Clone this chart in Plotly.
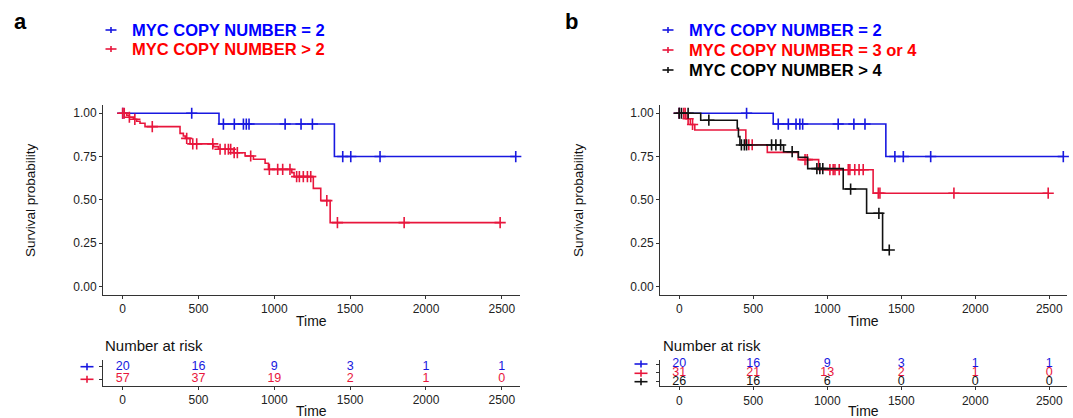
import numpy as np
import plotly.graph_objects as go

W, H = 1073, 418

# ---------------- data ----------------
# Panel a
a_blue_event_t = [635, 1396]
a_blue_surv = [0.9375, 0.75]
a_blue_censor = [0, 455, 664, 736, 796, 815, 833, 1071, 1176, 1251, 1451, 1504, 1697, 2592]

a_red_event_t = [26, 44, 70, 92, 114, 147, 378, 400, 413, 444, 598, 631, 730, 807, 862, 939, 961,
                 1115, 1130, 1257, 1306, 1368]
a_red_surv = [0.988, 0.977, 0.965, 0.954, 0.942, 0.923, 0.884, 0.869, 0.855, 0.823, 0.807, 0.792,
              0.772, 0.753, 0.734, 0.711, 0.676, 0.657, 0.634, 0.566, 0.495, 0.368]
a_red_censor = [0, 10, 44, 80, 195, 422, 462, 488, 594, 642, 675, 697, 712, 735, 756, 844, 967, 1022,
                1055, 1103, 1147, 1165, 1191, 1218, 1240, 1346, 1416, 1856, 2489]

# Panel b
b_blue_event_t = [635, 1396]
b_blue_surv = [0.9375, 0.75]
b_blue_censor = [0, 455, 669, 737, 789, 815, 834, 1074, 1180, 1255, 1457, 1514, 1699, 2595]

b_red_event_t = [45, 75, 105, 450, 595, 804, 942, 1310]
b_red_surv = [0.968, 0.935, 0.903, 0.818, 0.774, 0.732, 0.674, 0.538]
b_red_censor = [0, 30, 40, 60, 90, 470, 493, 850, 865, 1018, 1040, 1052, 1081, 1142, 1153, 1186,
                1215, 1243, 1345, 1356, 1856, 2493]

b_black_event_t = [145, 392, 400, 410, 705, 805, 868, 1108, 1266, 1374]
b_black_surv = [0.96, 0.913, 0.865, 0.817, 0.778, 0.746, 0.68, 0.562, 0.422, 0.21]
b_black_censor = [0, 15, 60, 200, 420, 440, 455, 624, 653, 685, 763, 930, 950, 970, 1158, 1349, 1419]

risk_times = [0, 500, 1000, 1500, 2000, 2500]
a_risk_blue = [20, 16, 9, 3, 1, 1]
a_risk_red = [57, 37, 19, 2, 1, 0]
b_risk_blue = [20, 16, 9, 3, 1, 1]
b_risk_red = [31, 21, 13, 2, 1, 0]
b_risk_black = [26, 16, 6, 0, 0, 0]

a_labels = ["MYC COPY NUMBER = 2", "MYC COPY NUMBER > 2"]
b_labels = ["MYC COPY NUMBER = 2", "MYC COPY NUMBER = 3 or 4", "MYC COPY NUMBER > 4"]
y_ticks = [0, 0.25, 0.5, 0.75, 1.0]
y_ticklabels = ["0.00", "0.25", "0.50", "0.75", "1.00"]

# ---------------- styles ----------------
BLUE = "#1818e0"
RED = "#e8163c"
BLACK = "#111111"
LEG_BLUE = "#0000ff"
LEG_RED = "#ff0000"
FONT = "Liberation Sans, Arial, sans-serif"


def px(x):
    return x / W


def py(y):
    return 1 - y / H


def surv_at(event_t, surv, t):
    idx = np.searchsorted(np.array(event_t), t, side="right")
    return 1.0 if idx == 0 else surv[idx - 1]


fig = go.Figure()


def add_km(event_t, surv, censor, color, xa, ya):
    end = max(censor + event_t)
    xs = [0] + list(event_t) + [end]
    ys = [1.0] + list(surv) + [surv[-1]]
    fig.add_trace(go.Scatter(x=xs, y=ys, mode="lines", line=dict(color=color, width=1.6, shape="hv"),
                             xaxis=xa, yaxis=ya, showlegend=False, hoverinfo="skip"))
    cy = [surv_at(event_t, surv, t) for t in censor]
    fig.add_trace(go.Scatter(x=censor, y=cy, mode="markers",
                             marker=dict(symbol="cross-thin", size=8, line=dict(color=color, width=1.6)),
                             xaxis=xa, yaxis=ya, showlegend=False, hoverinfo="skip", cliponaxis=False))


add_km(a_blue_event_t, a_blue_surv, a_blue_censor, BLUE, "x", "y")
add_km(a_red_event_t, a_red_surv, a_red_censor, RED, "x", "y")
add_km(b_blue_event_t, b_blue_surv, b_blue_censor, BLUE, "x2", "y2")
add_km(b_red_event_t, b_red_surv, b_red_censor, RED, "x2", "y2")
add_km(b_black_event_t, b_black_surv, b_black_censor, BLACK, "x2", "y2")


def add_risk(values, row, color, xa, ya):
    fig.add_trace(go.Scatter(x=risk_times, y=[row] * len(risk_times), mode="text",
                             text=[str(v) for v in values],
                             textfont=dict(color=color, size=12.5, family=FONT),
                             xaxis=xa, yaxis=ya, showlegend=False, hoverinfo="skip", cliponaxis=False))


add_risk(a_risk_blue, 2, BLUE, "x3", "y3")
add_risk(a_risk_red, 1, RED, "x3", "y3")
add_risk(b_risk_blue, 3, BLUE, "x4", "y4")
add_risk(b_risk_red, 2, RED, "x4", "y4")
add_risk(b_risk_black, 1, BLACK, "x4", "y4")

# ---------------- axes ----------------
xr = [-130, 2620]
main_y_dom = [py(295), py(104.6)]
ax_common = dict(showgrid=False, zeroline=False, showline=True, linecolor="#333333", linewidth=1,
                 ticks="outside", ticklen=3, tickcolor="#333333",
                 tickfont=dict(size=12, color="#222222", family=FONT))

fig.update_layout(
    xaxis=dict(domain=[px(103), px(520)], range=xr, tickvals=risk_times, anchor="y", **ax_common),
    yaxis=dict(domain=main_y_dom, range=[-0.05, 1.05], tickvals=y_ticks, ticktext=y_ticklabels,
               anchor="x", **ax_common),
    xaxis2=dict(domain=[px(660), px(1067)], range=xr, tickvals=risk_times, anchor="y2", **ax_common),
    yaxis2=dict(domain=main_y_dom, range=[-0.05, 1.05], tickvals=y_ticks, ticktext=y_ticklabels,
                anchor="x2", **ax_common),
    xaxis3=dict(domain=[px(103), px(520)], range=xr, tickvals=risk_times, anchor="y3", **ax_common),
    yaxis3=dict(domain=[py(385.6), py(360.4)], range=[0.5, 2.5], tickvals=[1, 2], showticklabels=False,
                anchor="x3", **ax_common),
    xaxis4=dict(domain=[px(660), px(1067)], range=xr, tickvals=risk_times, anchor="y4", **ax_common),
    yaxis4=dict(domain=[py(386.1), py(359.6)], range=[0.5, 3.5], tickvals=[1, 2, 3], showticklabels=False,
                anchor="x4", **ax_common),
)

annotations = []
shapes = []


def ann(x, y, text, size, color="#111111", bold=False, xanchor="center", angle=0):
    t = f"<b>{text}</b>" if bold else text
    annotations.append(dict(x=px(x), y=py(y), xref="paper", yref="paper", text=t, showarrow=False,
                            xanchor=xanchor, yanchor="middle", textangle=angle,
                            font=dict(size=size, color=color, family=FONT)))


def cross(x, y, color, hw, hh, width=1.6):
    shapes.append(dict(type="line", xref="paper", yref="paper", x0=px(x - hw), x1=px(x + hw),
                       y0=py(y), y1=py(y), line=dict(color=color, width=width)))
    shapes.append(dict(type="line", xref="paper", yref="paper", x0=px(x), x1=px(x),
                       y0=py(y - hh), y1=py(y + hh), line=dict(color=color, width=width)))


# panel labels
ann(20, 22, "a", 22, "#000000", bold=True)
ann(571, 22, "b", 22, "#000000", bold=True)

# legends
leg_a_colors = [LEG_BLUE, LEG_RED]
leg_a_cross = [BLUE, RED]
for i, (lab, c, cc) in enumerate(zip(a_labels, leg_a_colors, leg_a_cross)):
    yy = 30 + 19 * i
    cross(111, yy, cc, 5.5, 3)
    ann(130, yy, lab, 16.5, c, bold=True, xanchor="left")

leg_b_colors = [LEG_BLUE, LEG_RED, "#000000"]
leg_b_cross = [BLUE, RED, BLACK]
for i, (lab, c, cc) in enumerate(zip(b_labels, leg_b_colors, leg_b_cross)):
    yy = 30 + 20 * i
    cross(668, yy, cc, 5.5, 3)
    ann(687, yy, lab, 16.5, c, bold=True, xanchor="left")

# axis titles
ann(30, 200, "Survival probability", 13.5, angle=-90)
ann(578, 200, "Survival probability", 13.5, angle=-90)
ann(311.5, 321, "Time", 14)
ann(863.5, 321, "Time", 14)
ann(311.5, 411, "Time", 14)
ann(863.5, 411, "Time", 14)
ann(103, 345, "Number at risk", 15, xanchor="left")
ann(661, 345, "Number at risk", 15, xanchor="left")

# risk table keys
cross(87, 366.7, BLUE, 6.5, 3.5)
cross(87, 379.3, RED, 6.5, 3.5)
cross(641, 364, BLUE, 6.5, 3.5)
cross(641, 373.3, RED, 6.5, 3.5)
cross(641, 381.7, BLACK, 6.5, 3.5)

fig.update_layout(
    width=W, height=H, margin=dict(l=0, r=0, t=0, b=0),
    paper_bgcolor="white", plot_bgcolor="white",
    annotations=annotations, shapes=shapes, showlegend=False,
    font=dict(family=FONT),
)

fig.write_html("out.html", config={"displayModeBar": False},
               post_script="document.body.style.margin='0';document.body.style.overflow='hidden';")
